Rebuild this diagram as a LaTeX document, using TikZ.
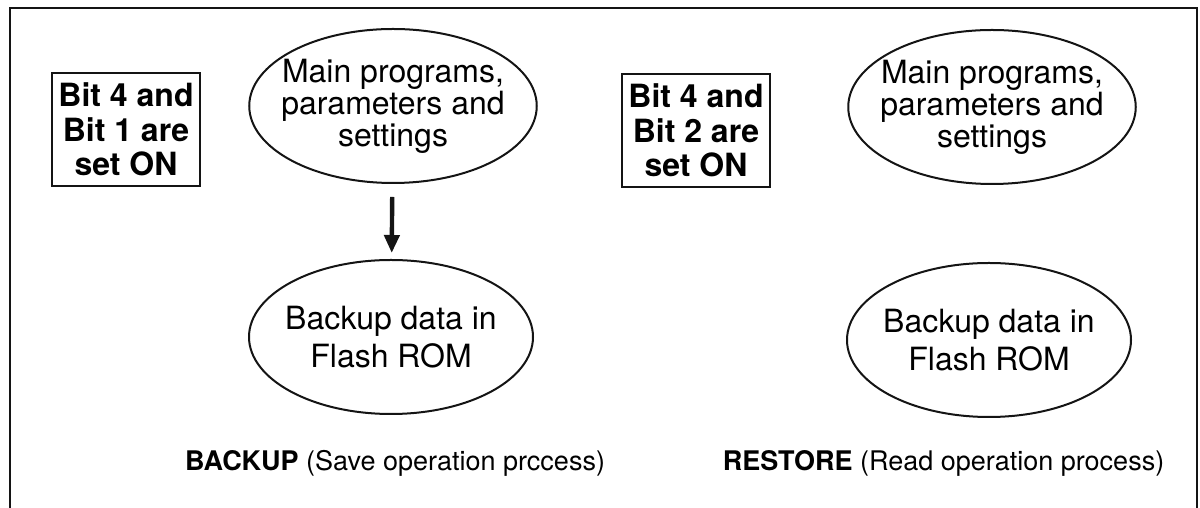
\documentclass[tikz,border=0pt]{standalone}
\usepackage{fontspec}
\setmainfont{TeX Gyre Heros}
\usetikzlibrary{arrows.meta,shapes.geometric}
\definecolor{ink}{HTML}{141414}

\begin{document}
\begin{tikzpicture}[x=0.5pt,y=0.5pt,
  blob/.style={ellipse, draw=ink, line width=1pt, minimum width=142pt, minimum height=77pt, inner xsep=-5pt, inner ysep=0pt, align=center, font=\fontsize{16}{13.2}\selectfont},
  bits/.style={draw=ink, line width=1pt, minimum width=74pt, minimum height=56.5pt, inner sep=0pt, align=center, font=\fontsize{16}{17.3}\selectfont\bfseries},
  caption/.style={font=\fontsize{13.5}{15}\selectfont}]
\useasboundingbox (0,0) rectangle (1200,508);
% frame (open at the bottom)
\draw[ink, line width=0.7pt] (10,0) -- (10,500) -- (1197,500) -- (1197,0);
% backup side
\node[bits] (bitsA) at (126,378.5) {Bit 4 and\\Bit 1 are\\set ON};
\node[blob] (mainA) at (393,402) {Main programs,\\parameters and\\settings};
\node[blob] (backA) at (391,171) {Backup data in\\[2.5pt]Flash ROM};
\draw[-{Triangle[length=9pt,width=7.5pt]}, line width=2.2pt, ink, shorten <=6.5pt, shorten >=3pt] (mainA) -- (backA);
\node[caption] (capA) at (395,45) {\textbf{BACKUP} (Save operation prccess)};
% restore side
\node[bits] (bitsB) at (696,377.5) {Bit 4 and\\Bit 2 are\\set ON};
\node[blob] (mainB) at (992,401) {Main programs,\\parameters and\\settings};
\node[blob] (backB) at (989,168) {Backup data in\\[2.5pt]Flash ROM};
\node[caption] (capB) at (943.5,45) {\textbf{RESTORE} (Read operation process)};
\end{tikzpicture}
\end{document}
